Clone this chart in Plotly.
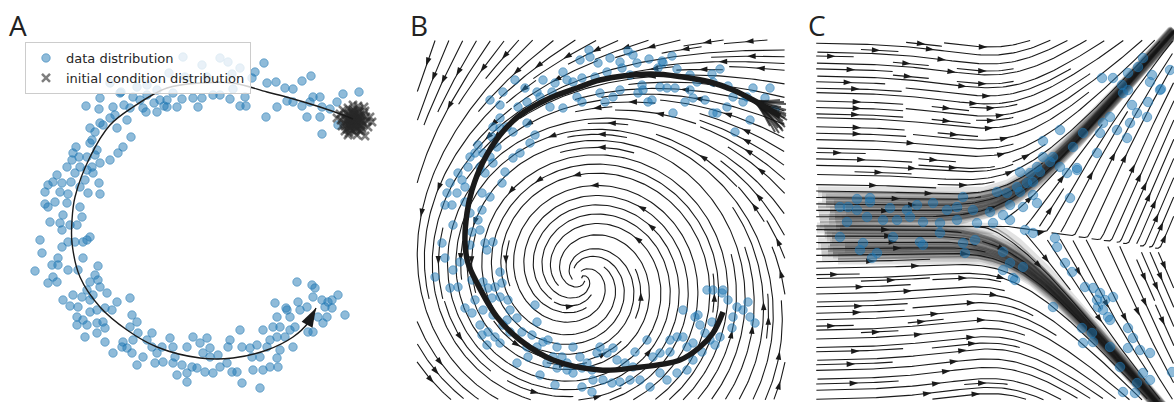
import math
import numpy as np
import plotly.graph_objects as go

# ---------------- data ----------------
# Panel A: data distribution (C-shaped cloud)
A_points = [
    (183,57),(202,65),(220,58),(228,62),(240,68),(255,72),(264,63),(169,73),(185,77),(207,77),
    (232,74),(252,78),(267,83),(276,82),(285,88),(293,89),(302,81),(311,76),(320,97),(343,94),
    (359,92),(337,102),(330,109),(322,107),(320,117),(307,117),(322,134),(338,125),(266,117),(277,107),
    (287,101),(293,102),(302,106),(310,102),(313,97),(240,106),(246,106),(230,99),(245,97),(233,89),
    (220,95),(213,95),(193,98),(202,98),(177,107),(182,99),(173,93),(160,100),(167,100),(157,90),
    (147,95),(140,100),(133,97),(120,93),(100,98),(86,106),(99,109),(113,107),(115,115),(124,105),
    (130,108),(143,108),(146,112),(157,112),(167,107),(154,103),(164,106),(198,107),(110,83),(121,92),
    (110,118),(103,125),(100,123),(117,128),(127,120),(131,137),(123,147),(118,153),(110,160),(97,150),
    (90,128),(95,132),(90,143),(92,140),(76,147),(73,153),(79,157),(87,157),(95,155),(100,163),
    (92,167),(87,170),(72,160),(80,167),(67,167),(75,173),(85,180),(93,173),(99,183),(57,175),
    (53,182),(62,183),(71,182),(80,187),(48,185),(45,192),(60,192),(68,194),(88,193),(100,194),
    (137,87),(147,85),
    (45,204),(48,207),(55,202),(67,203),(80,207),(82,217),(63,215),(60,223),(50,222),(70,225),
    (77,225),(62,230),(40,240),(42,253),(62,247),(68,242),(75,242),(87,240),(90,237),(83,242),
    (35,271),(52,265),(58,258),(58,265),(68,270),(78,270),(83,258),(98,266),(95,275),(98,280),
    (90,282),(100,287),(48,283),(53,277),(57,282),(73,295),(63,300),(70,306),(78,307),(82,297),
    (90,300),(93,295),(87,290),(107,293),(117,302),(112,310),(105,308),(97,310),(90,312),(77,317),
    (83,320),(77,325),(87,325),(97,323),(103,322),(105,328),(85,337),(97,333),(105,342),(113,353),
    (122,347),(123,342),(127,348),(130,327),(132,315),(130,298),(137,322),(138,333),(133,340),(132,353),
    (137,365),(143,357),(147,340),(152,333),(152,347),(157,353),(155,363),(163,362),(162,347),(170,338),
    (173,347),(175,357),(173,363),(182,365),(177,375),(187,373),(187,382),(192,367),(187,347),(193,337),
    (200,343),(207,338),(210,348),(203,353),(210,357),(218,355),(220,367),(213,373),(205,372),(197,368),
    (227,363),(232,372),(237,372),(230,340),(240,330),(228,347),(242,347),(250,348),(257,345),(252,357),
    (260,357),(267,347),(270,340),(277,337),(273,327),(263,330),(280,350),(280,327),(277,358),(270,367),
    (278,367),(263,370),(253,370),(242,383),(260,388),(285,337),(290,330),(293,347),(287,310),(290,317),
    (295,327),(277,317),(275,303),(286,308),(298,302),(297,282),(307,307),(312,285),(315,288),(313,297),
    (322,300),(328,302),(332,300),(338,295),(325,307),(332,308),(327,317),(318,317),(323,323),(345,315),
    (313,332),(308,332),(300,310),
]
# Panel A: initial condition distribution (tight cluster at the start)
A_init = [
    (354,120),(350,117),(358,123),(347,121),(361,118),(352,113),(356,127),(344,116),(364,124),(349,125),
    (359,112),(353,110),(346,113),(362,129),(351,130),(357,119),(341,120),(367,121),(355,115),(348,108),
    (360,126),(345,126),(363,115),(352,123),(356,122),(350,122),(358,116),(343,110),(365,111),(354,132),
    (349,114),(359,109),(347,129),(361,131),(353,105),(355,126),(340,114),(368,127),(351,111),(357,135),
    (346,118),(362,121),(352,119),(356,113),(360,121),(348,124),(354,118),(364,107),(344,123),(358,106),
    (350,128),(366,117),(353,125),(342,126),(357,118),(361,125),(349,133),(355,112),(359,130),(345,131),
    (348,135),(365,136),(370,117),(337,118),(372,122),(353,121),(355,119),(351,118),(357,121),(354,116),
    (352,125),(356,124),(350,120),(359,119),(353,114),(355,129),(348,119),(360,115),(351,127),(357,128),
]
# Panel A: mean trajectory (arrow)
A_curve_x = [353, 343, 320, 290, 267, 233, 200, 167, 133, 110, 90, 75, 72, 72, 80, 100, 127, 157, 200, 233, 267, 293, 308, 316]
A_curve_y = [119, 115, 107, 98, 92, 83, 83, 88, 107, 125, 157, 197, 220, 243, 277, 307, 330, 347, 358, 358, 350, 337, 323, 308]

# Panel B: data
B_points = [
    (589,50),(590,57),(580,60),(598,63),(610,58),(620,62),(628,51),(633,55),(637,63),(649,59),
    (662,61),(663,63),(672,56),(677,69),(690,75),(712,74),(720,69),(713,82),(697,82),(728,86),
    (753,88),(770,88),(765,98),(743,102),(733,97),(727,107),(713,113),(735,132),(750,120),(775,110),
    (705,100),(693,98),(685,102),(673,113),(690,90),(675,88),(667,88),(660,87),(652,100),(648,102),
    (643,90),(638,93),(630,75),(622,68),(607,72),(595,77),(582,78),(573,82),(563,72),(567,80),
    (555,83),(543,80),(552,92),(537,92),(525,88),(515,80),(503,92),(490,100),(500,105),(518,107),
    (527,102),(540,97),(550,107),(563,108),(577,97),(582,102),(600,93),(605,102),(613,97),(620,90),
    (493,127),(500,118),(507,127),(513,132),(527,123),(535,135),(530,143),(520,153),(513,158),(500,128),
    (492,137),(497,147),(478,145),(475,153),(483,153),(490,157),(493,163),(470,157),(468,167),(480,167),
    (485,173),(505,172),(458,173),(450,183),(462,180),(465,187),(447,193),(457,193),(482,193),(490,197),
    (502,183),(717,113),(747,97),(642,85),(658,68),
    (445,205),(452,205),(465,202),(470,213),(482,210),(478,220),(453,225),(472,232),(480,230),(442,243),
    (470,245),(485,243),(493,242),(487,250),(445,258),(460,262),(453,270),(435,277),(450,288),(458,287),
    (472,280),(483,282),(488,288),(500,272),(495,287),(502,283),(500,297),(492,298),(475,300),(465,308),
    (472,313),(483,310),(508,300),(510,310),(517,318),(507,320),(493,315),(480,325),(488,332),(482,335),
    (495,337),(487,345),(500,343),(510,332),(503,325),(522,332),(535,305),(537,322),(532,335),(527,347),
    (537,347),(543,342),(548,340),(557,347),(553,357),(547,363),(540,375),(562,357),(567,363),(573,347),
    (580,357),(587,363),(582,368),(592,370),(600,347),(597,353),(607,353),(613,348),(617,360),(625,363),
    (633,367),(635,352),(647,340),(653,357),(660,353),(670,352),(670,340),(677,337),(683,337),(687,347),
    (693,343),(683,310),(695,317),(700,325),(705,333),(710,340),(707,290),(713,290),(723,290),(722,293),
    (728,300),(737,307),(743,310),(748,302),(733,317),(750,317),(755,323),(732,328),(720,337),(715,345),
    (702,352),(693,360),(687,370),(677,373),(667,380),(660,373),(650,387),(640,380),(630,380),(620,382),
    (612,383),(603,380),(593,380),(592,392),(582,387),(573,373),(567,370),(555,385),(557,368),(528,357),
    (517,363),(698,315),(712,322),
]
# Panel B: learned trajectory band and its spread-out start
B_traj_x = [780, 773, 753, 733, 710, 683, 650, 600, 577, 550, 520, 500, 483, 472, 467, 465, 468, 477, 497, 520, 553, 600, 633, 680, 700, 713, 723]
B_traj_y = [116, 112, 100, 90, 82, 77, 74, 80, 88, 98, 115, 135, 162, 190, 213, 243, 263, 283, 317, 340, 360, 370, 368, 360, 347, 333, 312]
B_fan_start = [(786,104),(786,110),(785,118),(784,124),(782,129),(779,133),(775,132),(770,126),
               (780,100),(786,114),(783,121),(777,112),(785,127),(781,107),(787,120),(778,128),
               (784,102),(786,116),(780,118),(783,131)]

# Panel C: data (Y-shaped)
C_points = [
    (1143,58),(1138,67),(1128,73),(1152,75),(1150,82),(1160,90),(1102,78),(1113,78),(1122,85),(1128,90),
    (1132,105),(1137,113),(1147,117),(1130,123),(1117,130),(1127,138),(1100,133),(1060,130),(1043,141),(1097,153),
    (1077,168),(1070,198),(1020,172),(1040,172),(1050,162),(1033,182),(1020,192),(1010,205),(1033,195),(1170,70),
    (1161,89),(1148,102),(1123,93),(1110,117),(1103,123),(1083,133),(1073,147),(1053,157),(1060,167),(1067,173),
    (1077,170),(1043,157),(1037,167),(1030,173),(1027,183),(1017,187),(1007,193),(997,192),
    (963,197),(870,198),(857,199),(840,207),(848,207),(857,210),(870,202),(890,208),(907,210),(917,205),
    (933,203),(947,210),(957,207),(973,210),(990,212),(1003,215),(1010,220),(1023,207),(1037,203),(847,222),
    (867,217),(883,220),(897,220),(910,217),(923,222),(940,223),(957,220),(977,223),(993,223),(840,237),
    (863,243),(860,250),(877,253),(872,258),(893,237),(920,242),(923,245),(940,233),(963,243),(965,253),
    (975,240),(1003,252),(1010,263),(1023,267),(1003,270),(1015,280),(1025,230),(1033,233),(1013,278),
    (1055,238),(1057,247),(1065,263),(1072,272),(1053,307),(1085,287),(1093,288),(1100,293),(1097,300),(1105,300),
    (1113,297),(1098,307),(1103,310),(1108,317),(1110,320),(1082,328),(1092,333),(1128,328),(1133,338),(1083,343),
    (1093,342),(1110,347),(1128,348),(1140,350),(1150,353),(1120,367),(1143,373),(1137,383),(1150,380),(1123,392),
    (1135,393),(1172,372),
]
# Panel C: initial conditions of the learned trajectories (left arm)
C_init = [(818,192),(822,197),(826,202),(818,207),(830,212),(835,217),(820,222),(840,229),(825,233),(832,238),
          (818,243),(845,247),(828,251),(822,256),(838,259),(826,199),(819,215),(834,205),(842,221),
          (824,230),(830,245),(846,210),(821,249),(836,226),(829,219),(827,236),(817,228),(833,253)]

# vector-field parameters (fields drawn as streamlines)
B_CENTER = (582.0, 278.0)
C_JUNCTION = (1008.0, 226.0)
C_SLOPE_UP, C_SLOPE_LOW = 1.16, 1.17

# ---------------- figure geometry ----------------
W, H = 1174, 402
PANEL_A = (0, 400)
PANEL_B = (405, 790)
PANEL_C = (800, 1174)
BOX_B = (417, 785, 40, 400)
BOX_C = (816, 1174, 40, 400)

BLUE_FILL = "rgba(31,119,180,0.5)"
INK = "#1a1a1a"


def field_b(x, y):
    rx = x - B_CENTER[0]
    ry = y - B_CENTER[1]
    R = math.hypot(rx, ry) + 1e-9
    top = (1 - ry / R) / 2
    a = 0.75 * math.exp(-R / 45) + 0.07 + 0.9 * max(0.0, (R - 150) / 150) * top
    return ry - a * rx, -rx - a * ry


def _sig(t):
    return 1.0 / (1.0 + math.exp(-max(-50, min(50, t))))


def field_c(x, y):
    jx, jy = C_JUNCTION
    w = 25.0
    t = (x - jx) / w
    sp = w * (t + math.log1p(math.exp(-t)) if t > 0 else math.log1p(math.exp(t)))
    sg = _sig(t)
    yu = jy - C_SLOPE_UP * sp
    yl = jy + C_SLOPE_LOW * sp
    wa = _sig((x - jx + 40) / 40)
    du = y - yu
    dl = y - yl
    au = 1.2 if du > 0 else 0.6
    al = 1.2 if dl < 0 else 0.6
    vu = -C_SLOPE_UP * sg - au * math.tanh(du / 60) * wa
    vl = C_SLOPE_LOW * sg - al * math.tanh(dl / 60) * wa
    sep = jy + 0.15 * max(0.0, x - jx)
    m = 0.5 * (1 - math.tanh((y - sep) / 3))
    return 1.0, m * vu + (1 - m) * vl


def spiral_seeds(n):
    xfirst, yfirst, xlast, ylast = 0, 1, n - 1, n - 1
    x = y = 0
    d = 0
    out = []
    for _ in range(n * n):
        out.append((x, y))
        if d == 0:
            x += 1
            if x >= xlast:
                xlast -= 1; d = 1
        elif d == 1:
            y += 1
            if y >= ylast:
                ylast -= 1; d = 2
        elif d == 2:
            x -= 1
            if x <= xfirst:
                xfirst += 1; d = 3
        else:
            y -= 1
            if y <= yfirst:
                yfirst += 1; d = 0
    return out


def rk_step(field, x, y, sgn, ds):
    u, v = field(x, y)
    s = math.hypot(u, v)
    if s < 1e-9:
        return None
    xm = x + sgn * 0.5 * ds * u / s
    ym = y + sgn * 0.5 * ds * v / s
    u2, v2 = field(xm, ym)
    s2 = math.hypot(u2, v2)
    if s2 < 1e-9:
        return None
    return x + sgn * ds * u2 / s2, y + sgn * ds * v2 / s2


def streamplot(field, box, n, ds=1.5, maxlen=4.0, minlen=0.1):
    x0, x1, y0, y1 = box
    Wb = x1 - x0
    cw, ch = (x1 - x0) / n, (y1 - y0) / n
    mask = np.zeros((n, n), dtype=bool)

    def cell(x, y):
        return min(int((x - x0) / cw), n - 1), min(int((y - y0) / ch), n - 1)

    def run(xs, ys, sgn, owned):
        pts = []
        x, y = xs, ys
        cur = cell(x, y)
        L = 0.0
        while L < maxlen * Wb:
            nxt = rk_step(field, x, y, sgn, ds)
            if nxt is None:
                break
            nx_, ny_ = nxt
            if not (x0 <= nx_ <= x1 and y0 <= ny_ <= y1):
                break
            c = cell(nx_, ny_)
            if c != cur:
                if mask[c[1], c[0]]:
                    break
                mask[c[1], c[0]] = True
                owned.append(c)
                cur = c
            x, y = nx_, ny_
            pts.append((x, y))
            L += ds
        return pts, L

    lines = []
    for (i, j) in spiral_seeds(n):
        if mask[j, i]:
            continue
        xs = x0 + (i + 0.5) * cw
        ys = y0 + (j + 0.5) * ch
        owned = [(i, j)]
        mask[j, i] = True
        fwd, lf = run(xs, ys, 1, owned)
        bwd, lb = run(xs, ys, -1, owned)
        if lf + lb < minlen * Wb:
            for c in owned:
                mask[c[1], c[0]] = False
            continue
        lines.append(bwd[::-1] + [(xs, ys)] + fwd)
    return lines


def lines_to_trace_xy(lines):
    xs, ys, ax, ay, ang = [], [], [], [], []
    for tr in lines:
        pts = tr[::2] + ([tr[-1]] if (len(tr) - 1) % 2 else [])
        xs.extend([p[0] for p in pts] + [None])
        ys.extend([p[1] for p in pts] + [None])
        seg = np.hypot(np.diff([p[0] for p in tr]), np.diff([p[1] for p in tr]))
        s = np.cumsum(seg)
        k = int(np.searchsorted(s, s[-1] / 2.0))
        k = min(k, len(tr) - 3)
        dx = tr[k + 2][0] - tr[k][0]
        dy = tr[k + 2][1] - tr[k][1]
        ax.append(tr[k + 1][0]); ay.append(tr[k + 1][1])
        ang.append(math.degrees(math.atan2(dx, -dy)))
    return xs, ys, ax, ay, ang


def trajectory(field, x, y, box, ds=2.0, maxlen=900):
    x0, x1, y0, y1 = box
    pts = [(x, y)]
    L = 0.0
    while L < maxlen:
        nxt = rk_step(field, x, y, 1, ds)
        if nxt is None:
            break
        x, y = nxt
        if not (x0 <= x <= x1 + 10 and y0 - 10 <= y <= y1 + 10):
            break
        pts.append((x, y))
        L += ds
    return pts


fig = go.Figure()

# ---------------- Panel A ----------------
fig.add_trace(go.Scatter(
    x=[p[0] for p in A_points], y=[p[1] for p in A_points], mode="markers",
    name="data distribution",
    marker=dict(size=8.5, color=BLUE_FILL, line=dict(width=1, color=BLUE_FILL)),
    xaxis="x", yaxis="y", hoverinfo="skip"))
fig.add_trace(go.Scatter(
    x=[p[0] for p in A_init], y=[p[1] for p in A_init], mode="markers",
    name="initial condition distribution",
    marker=dict(size=8, symbol="x-thin", color="rgba(40,40,40,0.6)",
                line=dict(width=2.5, color="rgba(40,40,40,0.6)")),
    xaxis="x", yaxis="y", hoverinfo="skip"))
fig.add_trace(go.Scatter(
    x=A_curve_x, y=A_curve_y, mode="lines", line=dict(color=INK, width=1.4, shape="spline"),
    showlegend=False, xaxis="x", yaxis="y", hoverinfo="skip"))
a_ang = math.degrees(math.atan2(A_curve_x[-1] - A_curve_x[-2], -(A_curve_y[-1] - A_curve_y[-2])))
fig.add_trace(go.Scatter(
    x=[A_curve_x[-1]], y=[A_curve_y[-1]], mode="markers",
    marker=dict(symbol="arrow", size=20, angle=a_ang, color=INK, line=dict(width=0)),
    showlegend=False, xaxis="x", yaxis="y", hoverinfo="skip"))

# ---------------- Panel B ----------------
b_lines = streamplot(field_b, BOX_B, 54)
bx, by, bax, bay, bang = lines_to_trace_xy(b_lines)
fig.add_trace(go.Scatter(x=bx, y=by, mode="lines", line=dict(color=INK, width=1.1),
                         showlegend=False, xaxis="x2", yaxis="y2", hoverinfo="skip"))
fig.add_trace(go.Scatter(x=bax, y=bay, mode="markers",
                         marker=dict(symbol="arrow", size=9, angle=bang, color=INK, line=dict(width=0)),
                         showlegend=False, xaxis="x2", yaxis="y2", hoverinfo="skip"))
fig.add_trace(go.Scatter(
    x=[p[0] for p in B_points], y=[p[1] for p in B_points], mode="markers",
    marker=dict(size=8.5, color=BLUE_FILL, line=dict(width=1, color=BLUE_FILL)),
    showlegend=False, xaxis="x2", yaxis="y2", hoverinfo="skip"))
for sx, sy in B_fan_start:
    fig.add_trace(go.Scatter(
        x=[sx] + B_traj_x[2:7], y=[sy] + B_traj_y[2:7], mode="lines",
        line=dict(color="rgba(20,20,20,0.7)", width=2, shape="spline"),
        showlegend=False, xaxis="x2", yaxis="y2", hoverinfo="skip"))
fig.add_trace(go.Scatter(
    x=B_traj_x, y=B_traj_y, mode="lines", line=dict(color=INK, width=5.5, shape="spline"),
    showlegend=False, xaxis="x2", yaxis="y2", hoverinfo="skip"))

# ---------------- Panel C ----------------
c_lines = streamplot(field_c, BOX_C, 56)
cx, cy, cax, cay, cang = lines_to_trace_xy(c_lines)
fig.add_trace(go.Scatter(x=cx, y=cy, mode="lines", line=dict(color=INK, width=1.1),
                         showlegend=False, xaxis="x3", yaxis="y3", hoverinfo="skip"))
fig.add_trace(go.Scatter(x=cax, y=cay, mode="markers",
                         marker=dict(symbol="arrow", size=9, angle=cang, color=INK, line=dict(width=0)),
                         showlegend=False, xaxis="x3", yaxis="y3", hoverinfo="skip"))
c_trajs = [trajectory(field_c, sx, sy, BOX_C) for sx, sy in C_init]
for tr in c_trajs:
    fig.add_trace(go.Scatter(
        x=[p[0] for p in tr], y=[p[1] for p in tr], mode="lines",
        line=dict(color="rgba(30,30,30,0.13)", width=11),
        showlegend=False, xaxis="x3", yaxis="y3", hoverinfo="skip"))
for tr in c_trajs:
    fig.add_trace(go.Scatter(
        x=[p[0] for p in tr], y=[p[1] for p in tr], mode="lines",
        line=dict(color="rgba(20,20,20,0.3)", width=1.6),
        showlegend=False, xaxis="x3", yaxis="y3", hoverinfo="skip"))
fig.add_trace(go.Scatter(
    x=[p[0] for p in C_points], y=[p[1] for p in C_points], mode="markers",
    marker=dict(size=9.5, color=BLUE_FILL, line=dict(width=1, color=BLUE_FILL)),
    showlegend=False, xaxis="x3", yaxis="y3", hoverinfo="skip"))

# ---------------- layout ----------------
def xax(p):
    return dict(domain=[p[0] / W, p[1] / W], range=[p[0], p[1]], visible=False, fixedrange=True)


def yax(anchor):
    return dict(domain=[0, 1], range=[H, 0], visible=False, anchor=anchor, fixedrange=True)


labels = [("A", 7), ("B", 408), ("C", 806)]
fig.update_layout(
    width=W, height=H, margin=dict(l=0, r=0, t=0, b=0),
    paper_bgcolor="white", plot_bgcolor="white",
    xaxis=dict(xax(PANEL_A), anchor="y"), yaxis=yax("x"),
    xaxis2=dict(xax(PANEL_B), anchor="y2"), yaxis2=yax("x2"),
    xaxis3=dict(xax(PANEL_C), anchor="y3"), yaxis3=yax("x3"),
    showlegend=True,
    legend=dict(x=25 / W, y=1 - 42 / H, xanchor="left", yanchor="top",
                font=dict(family="DejaVu Sans", size=13, color="#262626"),
                bgcolor="rgba(255,255,255,0.8)", bordercolor="#cccccc", borderwidth=1,
                tracegroupgap=0),
    annotations=[dict(text=t, x=px / W, y=1 - 4 / H, xref="paper", yref="paper",
                      xanchor="left", yanchor="top", showarrow=False,
                      font=dict(family="Open Sans", size=28, color="#222222")) for t, px in labels],
)

fig.write_html("out.html")
